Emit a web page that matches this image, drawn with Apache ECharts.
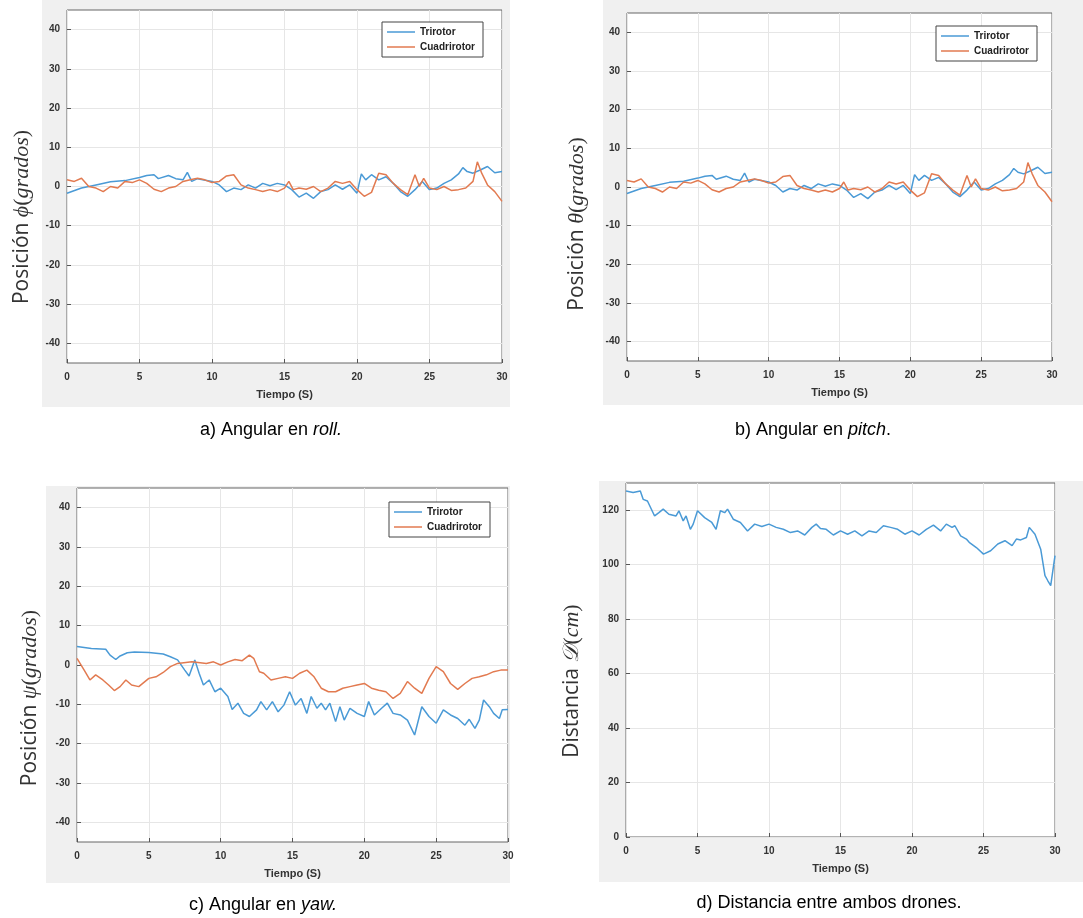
<!DOCTYPE html>
<html>
<head>
<meta charset="utf-8">
<script src="https://cdn.jsdelivr.net/npm/echarts@6/dist/echarts.min.js"></script>
<style>
  html, body { margin: 0; padding: 0; background: #fff; }
  #chart { width: 1083px; height: 918px; }
</style>
</head>
<body>
<div id="chart"></div>
<script>
// [tiempo (s), valor]
const rollTri = [[0,-1.7],[1,-0.4],[2,0.4],[3,1.2],[4,1.5],[5,2.3],[5.5,2.8],[6,3.0],[6.3,2.0],[7,2.8],[7.5,2.0],[8,1.7],[8.3,3.6],[8.6,1.3],[9,2.0],[10,1.3],[10.5,0.4],[11,-1.3],[11.5,-0.4],[12,-0.8],[12.5,0.4],[13,-0.4],[13.5,0.8],[14,0.2],[14.5,0.8],[15,0.4],[15.5,-0.8],[16,-2.7],[16.5,-1.7],[17,-3.0],[17.5,-1.3],[18,-0.8],[18.5,0.4],[19,-0.7],[19.5,0.4],[20,-1.7],[20.3,3.2],[20.6,1.7],[21,3.0],[21.5,1.7],[22,2.5],[22.5,0.8],[23,-1.3],[23.5,-2.5],[24,-0.8],[24.5,1.3],[25,-0.8],[25.5,-0.4],[26,0.8],[26.5,1.7],[27,3.2],[27.3,4.8],[27.6,3.8],[28,3.4],[28.5,4.2],[29,5.1],[29.5,3.5],[30,3.8]];
const rollCuad = [[0,1.7],[0.5,1.3],[1,2.1],[1.5,0],[2,-0.4],[2.5,-1.3],[3,0],[3.5,-0.4],[4,1.3],[4.5,1.0],[5,1.7],[5.5,0.8],[6,-0.7],[6.5,-1.3],[7,-0.4],[7.5,0],[8,1.3],[8.5,1.7],[9,2.1],[9.5,1.7],[10,1.0],[10.5,1.3],[11,2.7],[11.5,3.0],[12,0.4],[12.5,-0.4],[13,-0.8],[13.5,-1.3],[14,-0.8],[14.5,-1.3],[15,-0.4],[15.3,1.3],[15.6,-0.8],[16,-0.4],[16.5,-0.7],[17,0],[17.5,-1.3],[18,-0.4],[18.5,1.3],[19,0.8],[19.5,1.3],[20,-0.8],[20.5,-2.5],[21,-1.5],[21.5,3.4],[22,3.0],[22.5,0.8],[23,-0.8],[23.5,-2.1],[24,3.0],[24.3,0],[24.6,2.1],[25,-0.4],[25.5,-0.8],[26,0],[26.5,-1.0],[27,-0.8],[27.5,-0.4],[28,1.3],[28.3,6.3],[28.6,3.4],[29,0.4],[29.5,-1.3],[30,-3.8]];
// the pitch panel of the figure repeats the roll curves
const pitchTri = rollTri;
const pitchCuad = rollCuad;
const yawTri = [[0,4.7],[1,4.2],[2,4.0],[2.3,2.5],[2.7,1.4],[3,2.3],[3.5,3.1],[4,3.3],[5,3.2],[6,2.8],[6.5,2.1],[7,1.3],[7.5,-1.3],[7.8,-2.8],[8.2,1.3],[8.5,-2.1],[8.8,-5.1],[9.2,-3.8],[9.6,-6.8],[10,-5.9],[10.5,-8.0],[10.8,-11.3],[11.2,-9.7],[11.6,-12.3],[12,-13.1],[12.5,-11.4],[12.8,-9.3],[13.2,-11.4],[13.6,-9.3],[14,-11.9],[14.4,-10.2],[14.8,-6.8],[15.2,-10.2],[15.6,-8.5],[16,-12.3],[16.3,-8.0],[16.7,-11.0],[17,-9.7],[17.3,-11.4],[17.6,-9.7],[18,-14.4],[18.3,-10.6],[18.6,-14.0],[19,-11.0],[19.5,-12.3],[20,-13.1],[20.3,-9.3],[20.7,-12.7],[21.2,-11.0],[21.6,-9.7],[22,-12.3],[22.5,-12.7],[23,-14.0],[23.5,-17.8],[24,-10.6],[24.5,-13.1],[25,-14.8],[25.5,-11.4],[26,-12.7],[26.5,-13.6],[27,-15.3],[27.3,-13.8],[27.7,-16.1],[28,-14.0],[28.3,-8.9],[28.7,-10.6],[29,-12.3],[29.4,-13.6],[29.6,-11.4],[30,-11.3]];
const yawCuad = [[0,1.7],[0.5,-1.3],[0.9,-3.8],[1.3,-2.5],[1.8,-3.8],[2.2,-5.1],[2.6,-6.5],[3,-5.5],[3.4,-3.8],[3.8,-5.1],[4.3,-5.5],[5,-3.4],[5.5,-3.0],[6,-1.9],[6.5,-0.4],[7,0.4],[8,0.8],[9,0.4],[9.5,0.8],[10,0],[10.5,0.8],[11,1.4],[11.5,1.1],[12,2.5],[12.3,1.7],[12.7,-1.7],[13,-2.1],[13.5,-3.8],[14,-3.4],[14.5,-3.0],[15,-3.4],[15.5,-2.1],[16,-1.3],[16.5,-3.0],[17,-5.9],[17.5,-6.8],[18,-6.8],[18.5,-5.9],[19,-5.5],[19.5,-5.1],[20,-4.7],[20.5,-5.9],[21,-6.4],[21.5,-6.8],[22,-8.5],[22.5,-7.2],[23,-4.2],[23.5,-5.9],[24,-7.2],[24.5,-3.4],[25,-0.4],[25.5,-1.7],[26,-4.7],[26.5,-6.2],[27,-4.7],[27.5,-3.4],[28,-3.0],[28.5,-2.5],[29,-1.7],[29.5,-1.3],[30,-1.3]];
const distancia = [[0,127.1],[0.5,126.5],[1,127.1],[1.2,124],[1.5,123.4],[2,117.9],[2.3,119.1],[2.6,120.4],[3,118.5],[3.5,117.9],[3.7,119.8],[4,116.1],[4.2,117.9],[4.5,113],[4.7,114.9],[5,119.8],[5.5,117.3],[6,115.5],[6.3,113],[6.6,119.8],[6.9,119.1],[7.1,120.4],[7.5,116.7],[8,115.5],[8.5,112.4],[9,114.9],[9.5,114],[10,114.9],[10.5,113.7],[11,113],[11.5,111.8],[12,112.4],[12.5,110.9],[13,113.7],[13.3,114.9],[13.6,113.3],[14,113],[14.5,110.9],[15,112.4],[15.5,111.2],[16,112.4],[16.5,110.6],[17,112.4],[17.5,111.8],[18,114.3],[18.5,113.7],[19,113],[19.5,111.2],[20,112.4],[20.5,110.9],[21,113],[21.5,114.5],[22,112.4],[22.4,114.9],[22.8,113.7],[23,114.3],[23.4,110.6],[23.8,109.4],[24,108.2],[24.5,106.3],[25,103.9],[25.5,105.1],[26,107.6],[26.5,108.8],[27,107],[27.3,109.4],[27.6,109.1],[28,110],[28.2,113.7],[28.6,111.2],[29,105.7],[29.3,96],[29.5,94.1],[29.7,92.3],[30,103.3]];

const angTicks = [-40, -30, -20, -10, 0, 10, 20, 30, 40];
const distTicks = [0, 20, 40, 60, 80, 100, 120];
const names = ['Trirotor', 'Cuadrirotor'];

const BLUE = '#4a9ad6', ORANGE = '#e27a50';
const labelFont = { fontSize: 10, fontWeight: 'bold', color: '#333', fontFamily: 'Liberation Sans' };

const grids = [
    { left: 67, top: 10, width: 435, height: 353 },
    { left: 627, top: 13, width: 425, height: 348 },
    { left: 77, top: 488, width: 431, height: 354 },
    { left: 626, top: 483, width: 429, height: 354 }
].map(g => Object.assign(g, { show: true, backgroundColor: '#fff', borderColor: '#666', borderWidth: 1 }));

function xAxis(i) {
    return {
        type: 'value', gridIndex: i, min: 0, max: 30, interval: 5,
        name: 'Tiempo (S)', nameLocation: 'middle', nameGap: 26,
        nameTextStyle: { fontSize: 11, fontWeight: 'bold', color: '#333', fontFamily: 'Liberation Sans' },
        axisLine: { show: false, onZero: false },
        axisTick: { show: true, inside: true, length: 4, lineStyle: { color: '#555' } },
        axisLabel: Object.assign({ margin: 9 }, labelFont),
        splitLine: { show: true, lineStyle: { color: '#e6e6e6' } }
    };
}
function yAxis(i, min, max, ticks) {
    return {
        type: 'value', gridIndex: i, min: min, max: max,
        axisLine: { show: false, onZero: false },
        axisTick: { show: true, inside: true, length: 4, customValues: ticks, lineStyle: { color: '#555' } },
        axisLabel: Object.assign({ margin: 7, customValues: ticks }, labelFont),
        splitLine: { show: true, lineStyle: { color: '#e6e6e6' } }
    };
}
function line(name, data, i, color) {
    return {
        type: 'line', name: name, data: data, xAxisIndex: i, yAxisIndex: i,
        symbol: 'none', showSymbol: false, color: color,
        lineStyle: { width: 1.5, color: color }
    };
}
function legend(left, top) {
    return {
        data: names, left: left, top: top, orient: 'vertical', selectedMode: false,
        icon: 'rect', itemWidth: 28, itemHeight: 1.5, itemGap: 5,
        backgroundColor: '#fff', borderColor: '#444', borderWidth: 1, borderRadius: 0,
        padding: [5, 8, 5, 5],
        textStyle: { fontSize: 10, fontWeight: 'bold', color: '#222', fontFamily: 'Liberation Sans' }
    };
}

const serif = 'Liberation Serif';
const sans = 'Open Sans';
const titleRich = {
    a: { fontSize: 21, fontFamily: sans, fill: '#333' },
    s: { fontSize: 22, fontFamily: serif, fontStyle: 'italic', fill: '#333' },
    p: { fontSize: 22, fontFamily: serif, fill: '#333' },
    i: { fontSize: 22, fontFamily: serif, fontStyle: 'italic', fill: '#333' }
};
function yTitle(x, y, pre, sym, post) {
    return {
        type: 'text', x: x, y: y, rotation: Math.PI / 2,
        style: {
            text: '{a|' + pre + '}{s|' + sym + '}{p|(}{i|' + post + '}{p|)}',
            align: 'center', verticalAlign: 'middle',
            rich: titleRich
        }
    };
}
function caption(x, y, pre, it, post) {
    return {
        type: 'text', x: x, y: y,
        style: {
            text: '{n|' + pre + '}' + (it ? '{i|' + it + '}' : '') + (post ? '{n|' + post + '}' : ''),
            align: 'center', verticalAlign: 'middle',
            rich: {
                n: { fontSize: 18, fontFamily: 'Liberation Sans', fill: '#000' },
                i: { fontSize: 18, fontFamily: 'Liberation Sans', fontStyle: 'italic', fill: '#000' }
            }
        }
    };
}

const chart = echarts.init(document.getElementById('chart'));
chart.setOption({
    animation: false,
    backgroundColor: '#fff',
    graphic: [
        { type: 'rect', shape: { x: 42, y: 0, width: 468, height: 407 }, style: { fill: '#f0f0f0' }, z: -10 },
        { type: 'rect', shape: { x: 603, y: 0, width: 480, height: 405 }, style: { fill: '#f0f0f0' }, z: -10 },
        { type: 'rect', shape: { x: 46, y: 486, width: 464, height: 397 }, style: { fill: '#f0f0f0' }, z: -10 },
        { type: 'rect', shape: { x: 599, y: 481, width: 484, height: 401 }, style: { fill: '#f0f0f0' }, z: -10 },
        yTitle(22, 217, 'Posición ', 'ϕ', 'grados'),
        yTitle(577, 224, 'Posición ', 'θ', 'grados'),
        yTitle(30, 698, 'Posición ', 'ψ', 'grados'),
        yTitle(572, 681, 'Distancia ', '𝒟', 'cm'),
        caption(271, 430, 'a) Angular en ', 'roll.'),
        caption(813, 430, 'b) Angular en ', 'pitch', '.'),
        caption(263, 905, 'c) Angular en ', 'yaw.'),
        caption(829, 903, 'd) Distancia entre ambos drones.')
    ],
    grid: grids,
    xAxis: [xAxis(0), xAxis(1), xAxis(2), xAxis(3)],
    yAxis: [
        yAxis(0, -45, 45, angTicks),
        yAxis(1, -45, 45, angTicks),
        yAxis(2, -45, 45, angTicks),
        yAxis(3, 0, 130, distTicks)
    ],
    legend: [legend(382, 22), legend(936, 26), legend(389, 502)],
    series: [
        line('Trirotor', rollTri, 0, BLUE),
        line('Cuadrirotor', rollCuad, 0, ORANGE),
        line('Trirotor', pitchTri, 1, BLUE),
        line('Cuadrirotor', pitchCuad, 1, ORANGE),
        line('Trirotor', yawTri, 2, BLUE),
        line('Cuadrirotor', yawCuad, 2, ORANGE),
        line('Distancia', distancia, 3, BLUE)
    ]
});
</script>
</body>
</html>
